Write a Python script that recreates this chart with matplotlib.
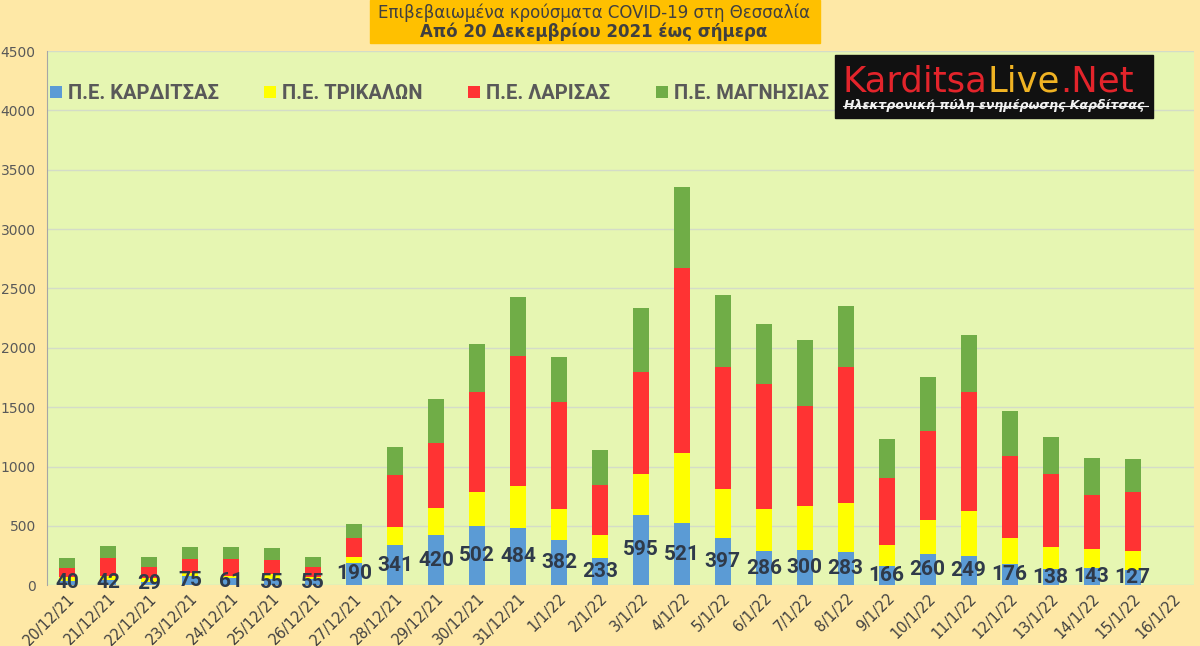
import numpy as np
import matplotlib.pyplot as plt
from matplotlib.patches import Rectangle

dates = ['20/12/21', '21/12/21', '22/12/21', '23/12/21', '24/12/21', '25/12/21', '26/12/21',
         '27/12/21', '28/12/21', '29/12/21', '30/12/21', '31/12/21', '1/1/22', '2/1/22',
         '3/1/22', '4/1/22', '5/1/22', '6/1/22', '7/1/22', '8/1/22', '9/1/22', '10/1/22',
         '11/1/22', '12/1/22', '13/1/22', '14/1/22', '15/1/22', '16/1/22']
karditsa = [40, 42, 29, 75, 61, 55, 55, 190, 341, 420, 502, 484, 382, 233, 595, 521, 397,
            286, 300, 283, 166, 260, 249, 176, 138, 143, 127, 0]
trikala = [30, 36, 35, 29, 17, 43, 12, 46, 153, 229, 284, 353, 258, 191, 340, 594, 417,
           354, 368, 410, 171, 293, 374, 222, 187, 163, 159, 0]
larisa = [78, 154, 90, 120, 146, 112, 87, 162, 433, 552, 842, 1095, 902, 424, 859, 1558, 1028,
          1056, 845, 1149, 564, 744, 1003, 694, 613, 455, 500, 0]
magnisia = [84, 99, 87, 96, 96, 102, 87, 121, 241, 371, 405, 499, 379, 292, 542, 685, 604,
            508, 554, 511, 334, 458, 483, 376, 309, 311, 278, 0]

names = ['Π.Ε. ΚΑΡΔΙΤΣΑΣ', 'Π.Ε. ΤΡΙΚΑΛΩΝ', 'Π.Ε. ΛΑΡΙΣΑΣ', 'Π.Ε. ΜΑΓΝΗΣΙΑΣ']
colors = ['#5B9BD5', '#FFFF00', '#FF3333', '#70AD47']

narrow = ['Roboto', 'DejaVu Sans']

fig = plt.figure(figsize=(12, 6.46), dpi=100, facecolor='#FEE8A6')
ax = fig.add_axes([0.039, 0.094, 0.956, 0.827])
ax.set_facecolor('#E6F6B2')

x = np.arange(len(dates))
bottom = np.zeros(len(dates))
for vals, name, c in zip([karditsa, trikala, larisa, magnisia], names, colors):
    ax.bar(x, vals, 0.39, bottom=bottom, color=c, label=name, zorder=3)
    bottom += np.array(vals)

for i, v in enumerate(karditsa):
    if v > 0:
        ax.text(i, v / 2, str(v), ha='center', va='center', fontsize=15,
                fontweight='bold', color='#2F3A4A', family=narrow, zorder=4, clip_on=False)

ax.set_xlim(-0.5, len(dates) - 0.5)
ax.set_ylim(0, 4500)
ax.set_yticks(np.arange(0, 4501, 500))
ax.grid(axis='y', color='#D4DCC8', lw=1, zorder=0)
ax.set_xticks(x)
ax.set_xticklabels(dates, rotation=45, ha='right', va='top', rotation_mode='anchor',
                   fontsize=10.5, color='#404040')
ax.tick_params(axis='y', labelsize=10, colors='#595959', length=0, pad=8)
ax.tick_params(axis='x', length=0, pad=4)
for s in ['top', 'right', 'bottom']:
    ax.spines[s].set_visible(False)
ax.spines['left'].set_color('#A6A6A6')

leg = ax.legend(ncol=4, loc='upper left', bbox_to_anchor=(-0.013, 0.972), frameon=False,
                handlelength=0.6, handleheight=0.6, handletextpad=0.3, columnspacing=2.25,
                prop={'family': narrow, 'weight': 'bold', 'size': 14.5})
for t in leg.get_texts():
    t.set_color('#595959')

# title box
fig.patches.append(Rectangle((370 / 1200, 1 - 43 / 646), 450 / 1200, 43 / 646,
                             transform=fig.transFigure, color='#FFC000', zorder=0))
fig.text(0.495, 1 - 13 / 646, 'Επιβεβαιωμένα κρούσματα COVID-19 στη Θεσσαλία',
         ha='center', va='center', fontsize=12, color='#404040')
fig.text(0.495, 1 - 32 / 646, 'Από 20 Δεκεμβρίου 2021 έως σήμερα',
         ha='center', va='center', fontsize=12, fontweight='bold', color='#404040')

# logo box
fig.patches.append(Rectangle((835 / 1200, 1 - 118 / 646), 318 / 1200, 63 / 646,
                             transform=fig.transFigure, color='#111111', zorder=5))
fig.canvas.draw()
r = fig.canvas.get_renderer()
xpos = 843 / 1200
for part, c in [('Karditsa', '#E3242B'), ('Live', '#F0B323'), ('.Net', '#E3242B')]:
    t = fig.text(xpos, 1 - 82 / 646, part, ha='left', va='center', fontsize=25.5,
                 color=c, family='DejaVu Sans', zorder=6)
    bb = t.get_window_extent(r)
    xpos += bb.width / fig.bbox.width
fig.text(994 / 1200, 1 - 106 / 646, 'Ηλεκτρονική πύλη ενημέρωσης Καρδίτσας', ha='center',
         va='center', fontsize=9, style='italic', fontweight='bold', color='#F2F2F2', zorder=6)
fig.lines.append(plt.Line2D([843 / 1200, 1148 / 1200], [1 - 106 / 646, 1 - 106 / 646],
                            transform=fig.transFigure, color='#F2F2F2', lw=0.8, zorder=7))

fig.savefig('out.png', dpi=100, facecolor=fig.get_facecolor())
